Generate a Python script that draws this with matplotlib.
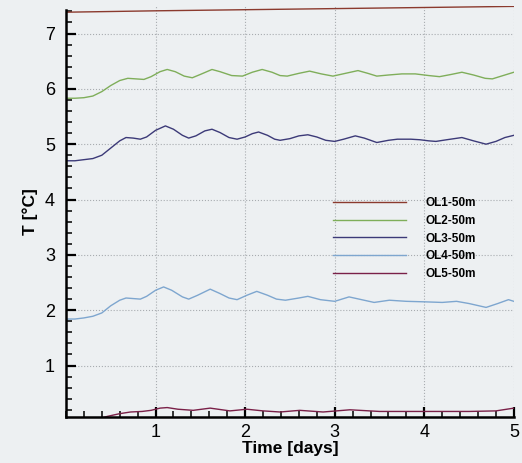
import matplotlib.pyplot as plt
from matplotlib.ticker import MultipleLocator

plt.rcParams['font.family'] = ['Liberation Sans', 'DejaVu Sans']

# OL1-50m
t1 = [0.0, 1.0, 2.0, 3.0, 4.0, 5.0]
T1 = [7.385, 7.41, 7.43, 7.45, 7.47, 7.49]

# OL2-50m
t2 = [0.0, 0.1, 0.2, 0.3, 0.4, 0.5, 0.6, 0.69, 0.78, 0.87, 0.95, 1.05, 1.13, 1.22,
      1.32, 1.41, 1.5, 1.63, 1.72, 1.85, 1.97, 2.08, 2.19, 2.3, 2.39, 2.47, 2.6,
      2.72, 2.85, 2.98, 3.12, 3.26, 3.37, 3.47, 3.6, 3.75, 3.9, 4.05, 4.17, 4.3,
      4.42, 4.55, 4.68, 4.76, 4.88, 5.0]
T2 = [5.83, 5.83, 5.84, 5.87, 5.95, 6.06, 6.15, 6.19, 6.18, 6.17, 6.22, 6.31, 6.35, 6.31,
      6.23, 6.20, 6.26, 6.35, 6.31, 6.24, 6.23, 6.30, 6.35, 6.30, 6.24, 6.23, 6.28,
      6.32, 6.27, 6.23, 6.28, 6.33, 6.28, 6.23, 6.25, 6.27, 6.27, 6.24, 6.22, 6.26,
      6.30, 6.25, 6.19, 6.18, 6.24, 6.30]

# OL3-50m
t3 = [0.0, 0.1, 0.2, 0.3, 0.4, 0.5, 0.6, 0.67, 0.75, 0.83, 0.9, 1.0, 1.11, 1.2,
      1.3, 1.37, 1.45, 1.55, 1.63, 1.72, 1.82, 1.91, 2.0, 2.08, 2.15, 2.25, 2.33,
      2.39, 2.5, 2.6, 2.7, 2.8, 2.9, 3.0, 3.1, 3.23, 3.33, 3.47, 3.6, 3.7, 3.85,
      3.95, 4.05, 4.13, 4.25, 4.42, 4.55, 4.69, 4.8, 4.9, 5.0]
T3 = [4.70, 4.70, 4.72, 4.74, 4.80, 4.93, 5.06, 5.12, 5.11, 5.09, 5.13, 5.25, 5.33, 5.27,
      5.16, 5.11, 5.15, 5.24, 5.27, 5.21, 5.12, 5.09, 5.13, 5.19, 5.22, 5.16, 5.09,
      5.07, 5.10, 5.15, 5.17, 5.13, 5.07, 5.05, 5.09, 5.15, 5.11, 5.03, 5.07, 5.09, 5.09,
      5.08, 5.06, 5.05, 5.08, 5.12, 5.06, 5.00, 5.05, 5.12, 5.16]

# OL4-50m
t4 = [0.0, 0.1, 0.2, 0.3, 0.4, 0.5, 0.6, 0.67, 0.75, 0.83, 0.9, 1.0, 1.09, 1.18,
      1.3, 1.37, 1.47, 1.61, 1.72, 1.82, 1.91, 2.02, 2.13, 2.25, 2.35, 2.45, 2.6,
      2.7, 2.84, 3.0, 3.16, 3.3, 3.44, 3.61, 3.8, 4.02, 4.2, 4.36, 4.5, 4.69, 4.82,
      4.94, 5.0]
T4 = [1.84, 1.84, 1.86, 1.89, 1.95, 2.08, 2.18, 2.22, 2.21, 2.20, 2.25, 2.36, 2.42, 2.36,
      2.24, 2.20, 2.27, 2.38, 2.30, 2.22, 2.19, 2.27, 2.34, 2.27, 2.20, 2.18, 2.22,
      2.25, 2.19, 2.16, 2.24, 2.19, 2.14, 2.18, 2.16, 2.15, 2.14, 2.16, 2.12, 2.05, 2.12,
      2.19, 2.16]

# OL5-50m
t5 = [0.0, 0.2, 0.35, 0.46, 0.6, 0.72, 0.85, 0.95, 1.05, 1.13, 1.25, 1.42, 1.61,
      1.83, 2.02, 2.2, 2.39, 2.61, 2.87, 3.17, 3.5, 3.8, 4.1, 4.5, 4.8, 5.0]
T5 = [0.0, 0.0, 0.03, 0.08, 0.13, 0.16, 0.17, 0.19, 0.23, 0.24, 0.21, 0.19, 0.23,
      0.18, 0.21, 0.18, 0.16, 0.19, 0.16, 0.20, 0.17, 0.17, 0.17, 0.17, 0.18, 0.23]

labels = ['OL1-50m', 'OL2-50m', 'OL3-50m', 'OL4-50m', 'OL5-50m']
colors = ['#8b3a2e', '#7fae5a', '#3c3a78', '#7ea6cf', '#7a2048']

bg = '#edf0f2'
fig = plt.figure(figsize=(5.22, 4.63), dpi=100, facecolor=bg)
ax = fig.add_axes([0.1264, 0.0994, 0.858, 0.888], facecolor=bg)

for t, T, lab, c in zip([t1, t2, t3, t4, t5], [T1, T2, T3, T4, T5], labels, colors):
    ax.plot(t, T, color=c, lw=1.0, label=lab)

ax.set_xlim(0, 5)
ax.set_ylim(0.07, 7.5)

ax.xaxis.set_minor_locator(MultipleLocator(0.2))
ax.yaxis.set_minor_locator(MultipleLocator(0.2))
ax.set_xticks([1, 2, 3, 4, 5])
ax.set_yticks([1, 2, 3, 4, 5, 6, 7])

ax.grid(True, which='major', ls=':', color='#a8acb0', lw=0.8)

for s in ['top', 'right']:
    ax.spines[s].set_visible(False)
ax.spines['left'].set_linewidth(1.8)
ax.spines['bottom'].set_linewidth(1.8)
ax.spines['left'].set_bounds(0.07, 7.43)

ax.tick_params(which='major', direction='in', length=7, width=1.6, labelsize=13)
ax.tick_params(axis='y', which='major', pad=8)
ax.tick_params(axis='x', which='major', pad=5)
ax.tick_params(which='minor', direction='in', length=4.5, width=1.1)

ax.set_xlabel('Time [days]', fontsize=12.5, fontweight='bold', labelpad=0)
ax.set_ylabel('T [°C]', fontsize=12.5, fontweight='bold', labelpad=5)

ax.legend(loc='upper left', bbox_to_anchor=(0.638, 0.575), bbox_transform=fig.transFigure,
          frameon=False, prop={'size': 8.5, 'weight': 'bold'}, handlelength=6.2,
          handletextpad=1.6, labelspacing=0.5, borderpad=0, borderaxespad=0)

plt.savefig('out.png', dpi=100, facecolor=bg)
